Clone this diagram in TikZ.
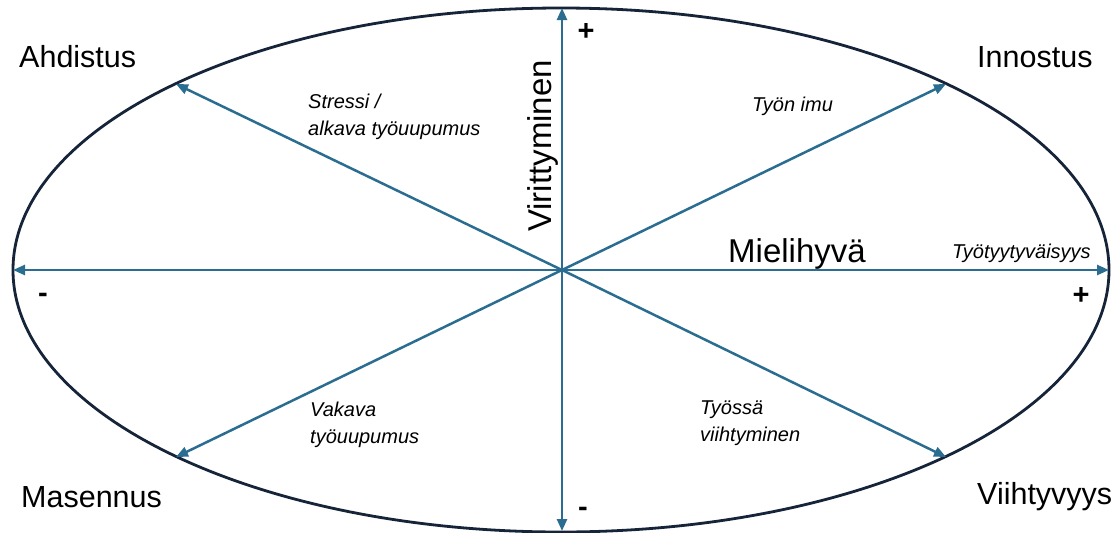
\documentclass[tikz,border=0pt]{standalone}
\usepackage{fontspec}
\setmainfont{Liberation Sans}
\usetikzlibrary{arrows.meta}
\definecolor{axis}{HTML}{2A6D90}
\definecolor{rim}{HTML}{16243A}
\tikzset{
  ax/.style={draw=axis, line width=2.5pt, -{Triangle[length=12pt,width=10pt]}},
  dax/.style={draw=axis, line width=2.5pt, {Triangle[length=12pt,width=10pt]}-{Triangle[length=12pt,width=10pt]}},
  corner/.style={font=\fontsize{30.5}{36}\selectfont, anchor=base west, inner sep=0pt},
  big/.style={font=\fontsize{33}{38}\selectfont, inner sep=0pt},
  small/.style={font=\fontsize{20}{26.5}\selectfont\itshape, anchor=base west, inner sep=0pt, align=left},
  sign/.style={font=\fontsize{29}{34}\selectfont\bfseries, inner sep=0pt}
}
\begin{document}
\begin{tikzpicture}[x=1pt,y=-1pt]
\useasboundingbox (0,0) rectangle (1117,533);
\fill[white] (0,0) rectangle (1117,533);
\draw[rim, line width=2.8pt] (561,270) ellipse [x radius=548, y radius=262];
\coordinate (c) at (562,270);
\coordinate (l) at (13,270);
\coordinate (r) at (1109,270);
\coordinate (t) at (562,8);
\coordinate (b) at (562,531);
\coordinate (ul) at (176,84);
\coordinate (ur) at (946,84);
\coordinate (ll) at (176,457);
\coordinate (lr) at (946,457);
\draw[dax] (l) -- (r);
\draw[dax] (b) -- (t);
\draw[ax] (c) -- (ul);
\draw[ax] (c) -- (ur);
\draw[ax] (c) -- (ll);
\draw[ax] (c) -- (lr);
\node[corner] (ahd) at (19,67) {Ahdistus};
\node[corner] (inn) at (977,67) {Innostus};
\node[corner] (mas) at (21,507) {Masennus};
\node[corner] (vii) at (977,504) {Viihtyvyys};
\node[big, rotate=90, anchor=base west] (vir) at (551,232) {Virittyminen};
\node[big, anchor=base west] (mie) at (728,262) {Mielihyvä};
\node[small] (str) at (308,135) {Stressi /\\alkava työuupumus};
\node[small] (imu) at (752,111) {Työn imu};
\node[small] (tyy) at (952,258) {Työtyytyväisyys};
\node[small] (vak) at (310,443) {Vakava\\työuupumus};
\node[small] (tys) at (700,441) {Työssä\\viihtyminen};
\node[sign] (p1) at (586,32) {+};
\node[sign] (m1) at (43,298) {-};
\node[sign] (p2) at (1081,296) {+};
\node[sign] (m2) at (583,512) {-};
\end{tikzpicture}
\end{document}
